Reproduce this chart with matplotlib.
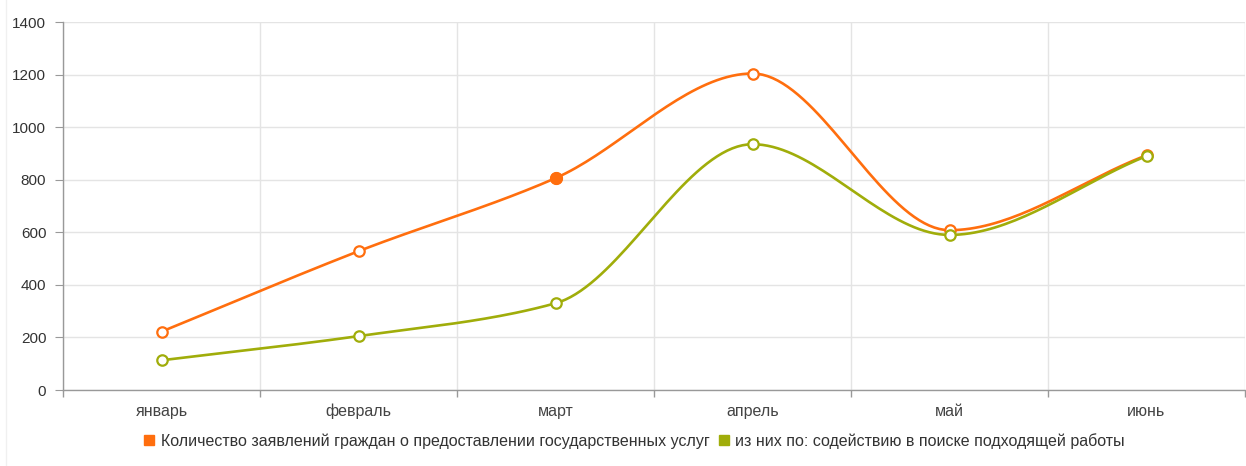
import numpy as np
import matplotlib.pyplot as plt
from matplotlib.lines import Line2D

months = ["январь", "февраль", "март", "апрель", "май", "июнь"]
total_requests = [222, 528, 806, 1204, 608, 893]
job_search = [113, 205, 330, 935, 590, 890]
series_names = ["Количество заявлений граждан о предоставлении государственных услуг",
                "из них по: содействию в поиске подходящей работы"]
series_colors = ["#ff6e0e", "#a0ad0a"]
hover_index = 2  # март point of the first series drawn as hovered (filled)


def monotone_curve(xs, ys, n=40):
    # monotone cubic (Fritsch-Carlson) interpolation, like the smoothed lines in the source
    xs = np.asarray(xs, float)
    ys = np.asarray(ys, float)
    h = np.diff(xs)
    d = np.diff(ys) / h
    m = np.zeros(len(xs))
    m[0], m[-1] = d[0], d[-1]
    for i in range(1, len(xs) - 1):
        if d[i - 1] * d[i] <= 0:
            m[i] = 0
        else:
            m[i] = 3 * (h[i - 1] + h[i]) / ((2 * h[i] + h[i - 1]) / d[i - 1] + (h[i] + 2 * h[i - 1]) / d[i])
    px, py = [], []
    for i in range(len(xs) - 1):
        t = np.linspace(0, 1, n)
        h00 = 2 * t**3 - 3 * t**2 + 1
        h10 = t**3 - 2 * t**2 + t
        h01 = -2 * t**3 + 3 * t**2
        h11 = t**3 - t**2
        px.extend(xs[i] + t * h[i])
        py.extend(h00 * ys[i] + h10 * h[i] * m[i] + h01 * ys[i + 1] + h11 * h[i] * m[i + 1])
    return np.array(px), np.array(py)


plt.rcParams['font.family'] = ['Liberation Sans', 'DejaVu Sans']
fig = plt.figure(figsize=(12.46, 4.66), dpi=100)
ax = fig.add_axes([63 / 1246, 76 / 466, 1182 / 1246, 368 / 466])

# faint container border on the left edge
fig.add_artist(Line2D([6 / 1246, 6 / 1246], [0, 1], color='#f0f0f0', lw=1))

x = np.arange(len(months))
for vals, col in [(total_requests, series_colors[0]), (job_search, series_colors[1])]:
    cx, cy = monotone_curve(x, vals)
    ax.plot(cx, cy, color=col, lw=1.9, zorder=3, solid_capstyle='round')
    ax.plot(x, vals, 'o', ms=7.5, mfc='white', mec=col, mew=1.6, zorder=4, ls='none')

ax.plot(x[hover_index], total_requests[hover_index], 'o', ms=8.5, color=series_colors[0], zorder=5)

ax.set_xlim(-0.5, len(months) - 0.5)
ax.set_ylim(0, 1400)
ax.set_yticks(range(0, 1401, 200))
ax.set_xticks(x)
ax.set_xticklabels(months)
ax.set_xticks(np.arange(-0.5, len(months)), minor=True)
ax.tick_params(axis='x', which='major', length=0, pad=10, labelsize=11.5, labelcolor='#444444')
ax.tick_params(axis='x', which='minor', length=5, color='#999999', width=1)
ax.tick_params(axis='y', length=6, color='#999999', labelsize=11, labelcolor='#333333', pad=6)

ax.grid(axis='y', color='#e4e4e4', lw=1)
ax.grid(axis='x', which='minor', color='#e4e4e4', lw=1)
ax.set_axisbelow(True)
for s in ['top', 'right']:
    ax.spines[s].set_visible(False)
for s in ['left', 'bottom']:
    ax.spines[s].set_color('#999999')
    ax.spines[s].set_linewidth(1)

handles = [Line2D([], [], marker='s', ls='none', ms=7, color=c) for c in series_colors]
fig.legend(handles, series_names, loc='center', bbox_to_anchor=(633 / 1246, 25 / 466), ncol=2,
           frameon=False, fontsize=11.5, handletextpad=0.2, columnspacing=0.4, handlelength=1.0,
           labelcolor='#333333')

fig.savefig('out.png', dpi=100)
